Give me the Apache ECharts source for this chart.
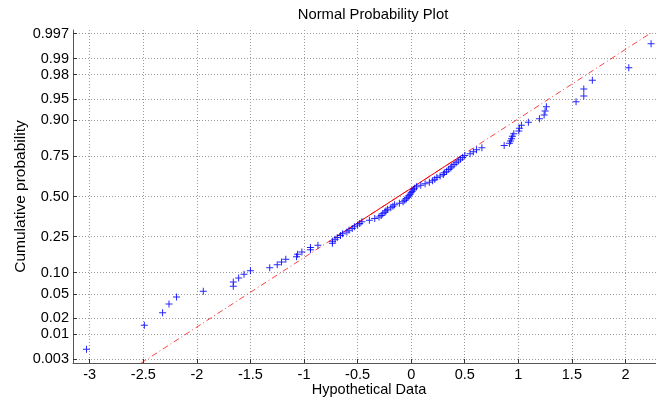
<!DOCTYPE html>
<html>
<head>
<meta charset="utf-8">
<script src="https://cdn.jsdelivr.net/npm/echarts@6/dist/echarts.min.js"></script>
<style>
html,body{margin:0;padding:0;background:#fff;}
#chart{width:656px;height:403px;}
</style>
</head>
<body>
<div id="chart"></div>
<script>
// ---- data ----
const sampleX = [
  -3.03, -2.49, -2.32, -2.26, -2.19, -1.94, -1.66, -1.66, -1.61, -1.56,
  -1.50, -1.32, -1.25, -1.21, -1.17, -1.07, -1.06, -1.02, -0.94, -0.94,
  -0.87, -0.735, -0.735, -0.71, -0.69, -0.66, -0.64, -0.60, -0.58, -0.55,
  -0.53, -0.50, -0.48, -0.46, -0.39, -0.34, -0.30, -0.28, -0.265, -0.245,
  -0.235, -0.22, -0.19, -0.17, -0.155, -0.11, -0.075, -0.06, -0.045, -0.03,
  -0.02, -0.01, 0.00, 0.01, 0.02, 0.03, 0.05, 0.09, 0.13, 0.17,
  0.20, 0.22, 0.24, 0.27, 0.30, 0.31, 0.33, 0.35, 0.37, 0.38,
  0.40, 0.42, 0.44, 0.46, 0.48, 0.50, 0.55, 0.58, 0.61, 0.66,
  0.868, 0.917, 0.928, 0.937, 0.945, 0.958, 1.005, 1.010, 1.029, 1.094,
  1.197, 1.241, 1.25, 1.262, 1.539, 1.611, 1.611, 1.691, 2.031, 2.239
];
// plotting positions (cumulative probability of each sorted sample)
const sampleP = [
  0.005, 0.015, 0.025, 0.035, 0.045, 0.055, 0.065, 0.075, 0.085, 0.095,
  0.105, 0.115, 0.125, 0.135, 0.145, 0.155, 0.165, 0.175, 0.185, 0.195,
  0.205, 0.215, 0.225, 0.235, 0.245, 0.255, 0.265, 0.275, 0.285, 0.295,
  0.305, 0.315, 0.325, 0.335, 0.345, 0.355, 0.365, 0.375, 0.385, 0.395,
  0.405, 0.415, 0.425, 0.435, 0.445, 0.455, 0.465, 0.475, 0.485, 0.495,
  0.505, 0.515, 0.525, 0.535, 0.545, 0.555, 0.565, 0.575, 0.585, 0.595,
  0.605, 0.615, 0.625, 0.635, 0.645, 0.655, 0.665, 0.675, 0.685, 0.695,
  0.705, 0.715, 0.725, 0.735, 0.745, 0.755, 0.765, 0.775, 0.785, 0.795,
  0.805, 0.815, 0.825, 0.835, 0.845, 0.855, 0.865, 0.875, 0.885, 0.895,
  0.905, 0.915, 0.925, 0.935, 0.945, 0.955, 0.965, 0.975, 0.985, 0.995
];
// reference line: quartile points (x at p=0.25 and p=0.75)
const refQuartX = [-0.696, 0.457];
const refQuartP = [0.25, 0.75];
// axis ticks
const yTickProbs  = [0.003, 0.01, 0.02, 0.05, 0.10, 0.25, 0.50, 0.75, 0.90, 0.95, 0.98, 0.99, 0.997];
const yTickLabels = ['0.003','0.01','0.02','0.05','0.10','0.25','0.50','0.75','0.90','0.95','0.98','0.99','0.997'];
const xTickValues = [-3, -2.5, -2, -1.5, -1, -0.5, 0, 0.5, 1, 1.5, 2];
const xLimits = [-3.156, 2.369];
const yLimitProbs = [0.0025, 0.9975];

// inverse normal CDF (probability-scale axis transform)
function probit(p){
  const a=[-3.969683028665376e+01,2.209460984245205e+02,-2.759285104469687e+02,1.383577518672690e+02,-3.066479806614716e+01,2.506628277459239e+00];
  const b=[-5.447609879822406e+01,1.615858368580409e+02,-1.556989798598866e+02,6.680131188771972e+01,-1.328068155288572e+01];
  const c=[-7.784894002430293e-03,-3.223964580411365e-01,-2.400758277161838e+00,-2.549732539343734e+00,4.374664141464968e+00,2.938163982698783e+00];
  const d=[7.784695709041462e-03,3.224671290700398e-01,2.445134137142996e+00,3.754408661907416e+00];
  const pl=0.02425, ph=1-pl; let q,r;
  if(p<pl){q=Math.sqrt(-2*Math.log(p));return (((((c[0]*q+c[1])*q+c[2])*q+c[3])*q+c[4])*q+c[5])/((((d[0]*q+d[1])*q+d[2])*q+d[3])*q+1);}
  if(p<=ph){q=p-0.5;r=q*q;return (((((a[0]*r+a[1])*r+a[2])*r+a[3])*r+a[4])*r+a[5])*q/(((((b[0]*r+b[1])*r+b[2])*r+b[3])*r+b[4])*r+1);}
  q=Math.sqrt(-2*Math.log(1-p));return -(((((c[0]*q+c[1])*q+c[2])*q+c[3])*q+c[4])*q+c[5])/((((d[0]*q+d[1])*q+d[2])*q+d[3])*q+1);
}

const points = sampleX.map((x,i)=>[x, probit(sampleP[i])]);
const z1 = probit(refQuartP[0]), z2 = probit(refQuartP[1]);
const slope = (z2 - z1) / (refQuartX[1] - refQuartX[0]);
const zAt = x => z1 + slope * (x - refQuartX[0]);
const xMinData = Math.min(...sampleX), xMaxData = Math.max(...sampleX);
const solidSeg = [[refQuartX[0], z1], [refQuartX[1], z2]];
const dashSeg = [[xMinData, zAt(xMinData)], [xMaxData, zAt(xMaxData)]];
const yTickValues = yTickProbs.map(probit);

const FONT = 'Liberation Sans, Arial, Helvetica, sans-serif';
const gridLine = {show:true, lineStyle:{color:'#9a9a9a', type:[1,2], width:1}};

const chart = echarts.init(document.getElementById('chart'), null, {renderer:'canvas'});
chart.setOption({
  animation:false,
  backgroundColor:'#ffffff',
  title:{
    text:'Normal Probability Plot',
    left:368, top:2, textAlign:'center',
    textStyle:{fontFamily:FONT, fontSize:14.8, fontWeight:'normal', color:'#000'}
  },
  grid:{left:73, top:30, right:-9, bottom:40, outerBoundsMode:'none', containLabel:false},
  xAxis:{
    type:'value', min:xLimits[0], max:xLimits[1],
    name:'Hypothetical Data', nameLocation:'middle', nameGap:19, nameMoveOverlap:false,
    nameTextStyle:{fontFamily:FONT, fontSize:14.5, color:'#000'},
    axisLine:{show:true, onZero:false, lineStyle:{color:'#555', width:1}},
    axisTick:{show:true, inside:true, length:4, customValues:xTickValues, lineStyle:{color:'#333'}},
    axisLabel:{show:true, margin:4, customValues:xTickValues, fontFamily:FONT, fontSize:14.5, color:'#000',
      formatter:v=>String(v)},
    splitLine:gridLine
  },
  yAxis:{
    type:'value', min:probit(yLimitProbs[0]), max:probit(yLimitProbs[1]),
    name:'Cumulative probability', nameLocation:'middle', nameGap:44, nameRotate:90, nameMoveOverlap:false,
    nameTextStyle:{fontFamily:FONT, fontSize:15.5, color:'#000'},
    axisLine:{show:true, onZero:false, lineStyle:{color:'#555', width:1}},
    axisTick:{show:true, inside:true, length:4, customValues:yTickValues, lineStyle:{color:'#333'}},
    axisLabel:{show:true, margin:4, customValues:yTickValues, fontFamily:FONT, fontSize:14.5, color:'#000',
      formatter:v=>{let best=0,bd=1e9;yTickValues.forEach((t,i)=>{const dd=Math.abs(t-v);if(dd<bd){bd=dd;best=i;}});return yTickLabels[best];}},
    splitLine:gridLine
  },
  series:[
    {type:'line', data:dashSeg, symbol:'none', clip:true, silent:true,
     lineStyle:{color:'rgba(255,0,0,0.75)', width:1, type:[6,3,1,3]}, z:2},
    {type:'line', data:solidSeg, symbol:'none', clip:true, silent:true,
     lineStyle:{color:'#ff0000', width:1, type:'solid'}, z:2},
    {type:'scatter', data:points, symbol:'path://M3,0H4V3H7V4H4V7H3V4H0V3H3Z', symbolSize:7,
     itemStyle:{color:'#0000ff', opacity:0.85}, z:3}
  ]
});
</script>
</body>
</html>
